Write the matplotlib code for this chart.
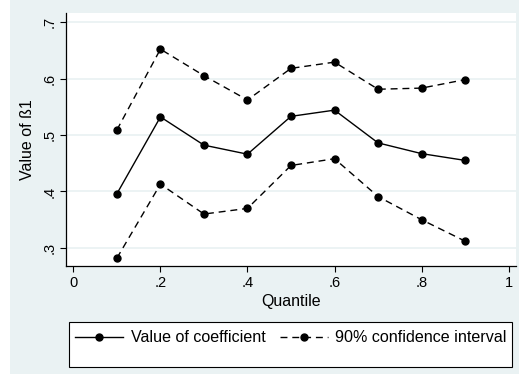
import matplotlib
matplotlib.use("Agg")
import matplotlib.pyplot as plt
from matplotlib.patches import Rectangle

plt.rcParams['font.family'] = ['Liberation Sans', 'DejaVu Sans']

quantiles = [0.1, 0.2, 0.3, 0.4, 0.5, 0.6, 0.7, 0.8, 0.9]
coef = [0.396, 0.532, 0.482, 0.466, 0.533, 0.544, 0.486, 0.467, 0.455]
ci_upper = [0.509, 0.652, 0.605, 0.562, 0.618, 0.629, 0.581, 0.583, 0.598]
ci_lower = [0.282, 0.413, 0.360, 0.370, 0.446, 0.458, 0.391, 0.350, 0.312]

xticks = [0, 0.2, 0.4, 0.6, 0.8, 1]
xlabels = ['0', '.2', '.4', '.6', '.8', '1']
yticks = [0.3, 0.4, 0.5, 0.6, 0.7]
ylabels = ['.3', '.4', '.5', '.6', '.7']

bg = '#eaf2f3'
W, H = 519, 377

fig = plt.figure(figsize=(5.19, 3.77), dpi=100, facecolor='white')
# stata-ish outer background (image is slightly cropped: white strip left/bottom)
fig.patches.append(Rectangle((10 / W, 3 / H), 1, 1, transform=fig.transFigure,
                             facecolor=bg, edgecolor='none', zorder=-10))
# legend box drawn by hand, entries sit in its upper part like stata does
fig.patches.append(Rectangle((69 / W, 1 - 367 / H), 443 / W, 45 / H, transform=fig.transFigure,
                             facecolor='white', edgecolor='black', lw=0.8, zorder=1))

ax = fig.add_axes([66 / W, 1 - 266 / H, 450 / W, 253 / H])
ax.set_facecolor('white')

dash = (0, (5, 3.5))
ax.plot(quantiles, coef, color='black', lw=1.0, marker='o', ms=5,
        label='Value of coefficient', zorder=3)
ax.plot(quantiles, ci_upper, color='black', lw=1.0, ls=dash, marker='o', ms=5,
        label='90% confidence interval', zorder=3)
ax.plot(quantiles, ci_lower, color='black', lw=1.0, ls=dash, marker='o', ms=5, zorder=3)

ax.set_xlim(-0.017, 1.017)
ax.set_ylim(0.268, 0.716)
ax.set_xticks(xticks)
ax.set_xticklabels(xlabels)
ax.set_yticks(yticks)
ax.set_yticklabels(ylabels, rotation=90, va='center')
ax.yaxis.grid(True, color=bg, lw=1.3)
ax.set_axisbelow(True)

for s in ['top', 'right']:
    ax.spines[s].set_visible(False)
for s in ['left', 'bottom']:
    ax.spines[s].set_color('black')
    ax.spines[s].set_linewidth(0.9)
ax.tick_params(direction='out', length=4, width=0.8, labelsize=10.5, pad=3)

ax.set_xlabel('Quantile', fontsize=11.5, labelpad=3)
ax.set_ylabel('Value of ß1', fontsize=11.5, labelpad=5)

leg = fig.legend(loc='center left', bbox_to_anchor=(75 / W, 1 - 338 / H),
                 ncol=2, fontsize=11.6, frameon=False, borderpad=0, borderaxespad=0,
                 handlelength=3.0, handletextpad=0.45, columnspacing=0.9)
leg.set_zorder(5)

fig.savefig('out.png', dpi=100, facecolor=fig.get_facecolor())
